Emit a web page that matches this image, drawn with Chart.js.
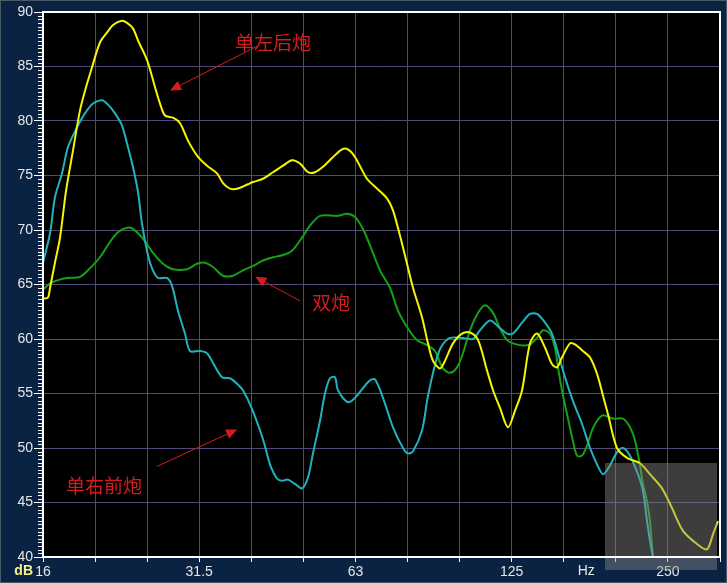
<!DOCTYPE html>
<html>
<head>
<meta charset="utf-8">
<script src="https://cdn.jsdelivr.net/npm/chart.js@4.4.1/dist/chart.umd.min.js"></script>
<style>
  html, body { margin: 0; padding: 0; background: #0b2343; }
  #wrap { width: 727px; height: 583px; }
</style>
</head>
<body>
<div id="wrap"><canvas id="fr" width="727" height="583"></canvas></div>
<script>
// third-octave grid, labels only on the octaves
const freqTicks = [15.85, 19.95, 25.12, 31.62, 39.81, 50.12, 63.10, 79.43, 100.0, 125.9, 158.5, 199.5, 251.2, 316.2];
const freqTickLabels = ['16', '', '', '31.5', '', '', '63', '', '', '125', '', '', '250', ''];
const dbTicks = [40, 45, 50, 55, 60, 65, 70, 75, 80, 85, 90];

// 单左后炮 (yellow)
const yellowFreq = [15.85,16.20,16.35,16.71,17.09,17.55,18.10,18.67,19.17,19.68,20.39,21.03,21.60,22.47,22.98,23.59,24.12,25.10,26.01,26.59,27.18,28.16,29.05,30.09,31.45,32.73,34.21,35.13,36.23,37.54,39.23,40.11,41.92,43.82,45.80,47.66,49.37,51.15,52.76,54.66,56.88,59.45,61.04,62.96,66.39,69.39,72.53,74.49,77.85,81.37,84.67,86.95,88.89,91.69,93.74,97.11,101.1,104.7,108.5,112.9,115.9,119.5,123.8,127.7,131.8,136.5,140.8,145.9,150.4,153.8,157.2,162.9,166.5,172.5,178.0,183.6,188.5,192.7,200.5,209.6,222.0,232.0,244.7,255.7,268.5,285.6,298.5,306.6,313.4];
const yellowDb = [63.7,63.8,64.7,67.0,69.3,73.6,77.3,81.0,83.1,84.9,87.2,88.1,88.8,89.2,89.0,88.5,87.4,85.6,83.1,81.6,80.5,80.3,79.8,78.2,76.7,75.9,75.2,74.3,73.8,73.8,74.2,74.4,74.7,75.3,75.9,76.4,76.1,75.3,75.3,75.8,76.6,77.4,77.4,76.7,74.7,73.8,72.9,71.8,68.4,64.7,62.0,59.6,58.0,57.3,58.0,59.6,60.5,60.6,59.9,57.1,55.3,53.7,51.9,53.4,55.3,59.6,60.5,59.2,57.7,57.4,58.3,59.6,59.5,58.9,58.3,56.8,54.8,53.1,50.0,49.1,48.6,47.6,46.3,44.5,42.4,41.2,40.7,42.1,43.3];

// 单右前炮 (cyan)
const cyanFreq = [15.85,16.35,16.71,17.24,17.70,18.42,19.08,19.77,20.57,21.13,21.79,22.47,23.08,23.59,24.12,24.55,25.10,25.66,26.35,27.42,28.03,28.79,29.69,30.36,31.73,32.73,33.61,34.97,36.23,37.37,38.37,39.93,41.92,43.24,44.60,45.59,46.82,48.29,49.81,51.15,52.29,53.94,55.14,56.37,57.63,58.40,61.04,62.96,65.23,67.28,68.79,71.26,74.49,77.85,79.59,81.37,84.67,86.95,90.48,92.50,95.83,101.5,106.1,109.4,114.4,119.5,123.3,126.6,131.8,136.5,140.8,145.9,150.4,154.5,159.3,165.1,171.8,178.0,183.6,188.5,194.4,200.5,205.9,212.4,220.0,224.9,229.0,232.0,235.1,237.2];
const cyanDb = [67.0,69.7,73.0,75.2,77.6,79.4,80.7,81.6,81.9,81.5,80.7,79.6,77.6,75.8,73.5,70.6,68.1,66.5,65.6,65.6,64.9,62.6,60.5,58.9,58.9,58.7,57.8,56.5,56.4,55.9,55.3,53.6,50.8,48.5,47.2,47.0,47.1,46.7,46.3,47.3,49.5,52.5,55.0,56.4,56.5,55.3,54.2,54.6,55.5,56.2,56.3,54.6,51.9,50.0,49.5,49.7,51.6,54.8,58.3,59.4,60.1,60.1,60.0,60.8,61.7,61.0,60.5,60.5,61.5,62.3,62.3,61.5,60.5,58.7,56.5,54.3,52.2,50.0,48.5,47.6,48.4,49.6,50.0,49.3,47.6,46.1,43.3,41.5,40.0,38.8];

// 双炮 (green)
const greenFreq = [15.85,16.35,16.94,17.62,18.67,19.51,20.39,21.31,22.08,22.98,23.59,24.66,25.78,26.94,28.16,29.96,31.31,32.44,33.61,35.13,36.71,38.37,40.11,41.92,43.82,45.80,47.66,49.81,51.60,53.94,58.40,60.77,62.96,65.23,67.28,70.32,73.50,76.15,79.25,82.81,86.95,89.68,92.91,95.83,98.85,101.5,104.7,108.5,111.9,115.9,119.5,123.3,126.6,132.3,136.5,140.8,144.6,149.1,152.4,154.5,157.2,160.8,164.4,168.0,171.8,175.6,179.5,183.6,188.5,197.0,205.9,212.4,217.1,222.0,224.9,229.0,232.0,235.1,237.2];
const greenDb = [64.5,65.1,65.4,65.6,65.7,66.5,67.5,68.9,69.8,70.2,70.1,69.2,67.9,66.9,66.4,66.4,66.9,67.0,66.6,65.8,65.8,66.3,66.7,67.2,67.5,67.7,68.1,69.3,70.4,71.3,71.3,71.5,71.2,70.1,68.6,66.3,64.7,62.6,61.1,59.9,59.4,58.9,57.3,56.9,57.4,58.7,60.8,62.4,63.1,62.4,61.0,59.9,59.6,59.4,59.5,60.1,60.8,60.5,59.2,57.4,55.3,53.1,51.0,49.3,49.3,50.2,51.6,52.5,53.0,52.7,52.7,51.9,50.7,48.4,46.7,45.1,43.3,40.0,38.8];

// red callouts, placed in data space (Hz, dB)
const notes = [
  { text: '单左后炮', at: [43.8, 87.2], from: [41.4, 87.0], to: [27.8, 82.8] },
  { text: '双炮', at: [56.6, 63.35], from: [49.4, 63.5], to: [40.5, 65.7] },
  { text: '单右前炮', at: [20.76, 46.5], from: [26.2, 48.3], to: [37.4, 51.7] },
];
const xUnit = { text: 'Hz', at: 175 };
const yUnit = 'dB';

function pts(f, d) {
  return f.map((v, i) => ({ x: v, y: d[i] }));
}

const FONT = "'Liberation Sans', Arial, sans-serif";

const decor = {
  id: 'decor',
  beforeDraw(chart) {
    const { ctx, chartArea: a } = chart;
    ctx.save();
    ctx.fillStyle = '#0b2343';
    ctx.fillRect(0, 0, chart.width, chart.height);
    ctx.strokeStyle = '#4a5a66';
    ctx.lineWidth = 1;
    ctx.strokeRect(0.5, 0.5, chart.width - 1, chart.height - 1);
    ctx.fillStyle = '#000';
    ctx.fillRect(a.left, a.top, a.right - a.left, a.bottom - a.top);
    ctx.restore();
  },
  afterDatasetsDraw(chart) {
    const { ctx, chartArea: a } = chart;
    const xs = chart.scales.x, ys = chart.scales.y;
    ctx.save();
    ctx.strokeStyle = '#d41c1c';
    ctx.fillStyle = '#d41c1c';
    ctx.lineWidth = 1;
    notes.forEach(n => {
      const x1 = xs.getPixelForValue(n.from[0]), y1 = ys.getPixelForValue(n.from[1]);
      const x2 = xs.getPixelForValue(n.to[0]), y2 = ys.getPixelForValue(n.to[1]);
      const ang = Math.atan2(y2 - y1, x2 - x1);
      ctx.beginPath();
      ctx.moveTo(x1, y1);
      ctx.lineTo(x2 - 8 * Math.cos(ang), y2 - 8 * Math.sin(ang));
      ctx.stroke();
      ctx.beginPath();
      ctx.moveTo(x2, y2);
      ctx.lineTo(x2 - 11 * Math.cos(ang) + 5 * Math.sin(ang), y2 - 11 * Math.sin(ang) - 5 * Math.cos(ang));
      ctx.lineTo(x2 - 11 * Math.cos(ang) - 5 * Math.sin(ang), y2 - 11 * Math.sin(ang) + 5 * Math.cos(ang));
      ctx.closePath();
      ctx.fill();
      ctx.font = "19px 'Noto Sans CJK SC', sans-serif";
      ctx.textAlign = 'center';
      ctx.textBaseline = 'middle';
      ctx.fillText(n.text, xs.getPixelForValue(n.at[0]), ys.getPixelForValue(n.at[1]));
    });
    // faded logo patch in the corner
    ctx.fillStyle = 'rgba(135,135,135,0.45)';
    ctx.fillRect(a.right - 115, a.bottom - 94, 112, 107);
    ctx.restore();
  },
  afterDraw(chart) {
    const { ctx, chartArea: a } = chart;
    const xs = chart.scales.x, ys = chart.scales.y;
    ctx.save();
    ctx.strokeStyle = '#ffffff';
    ctx.lineWidth = 2;
    ctx.strokeRect(a.left, a.top, a.right - a.left, a.bottom - a.top);
    // minor dB ticks
    ctx.lineWidth = 1;
    ctx.beginPath();
    for (let i = 0; i <= 150; i++) {
      if (i % 15 === 0) continue;
      const y = Math.round(ys.getPixelForValue(40 + i / 3)) + 0.5;
      ctx.moveTo(a.left - 5, y);
      ctx.lineTo(a.left, y);
    }
    ctx.stroke();
    ctx.font = '14px ' + FONT;
    ctx.fillStyle = '#e6e6e6';
    ctx.textAlign = 'center';
    ctx.textBaseline = 'middle';
    ctx.fillText(xUnit.text, xs.getPixelForValue(xUnit.at), a.bottom + 14);
    ctx.font = 'bold 14px ' + FONT;
    ctx.fillStyle = '#f4f48a';
    ctx.textAlign = 'right';
    ctx.fillText(yUnit, a.left - 10, a.bottom + 14);
    ctx.restore();
  }
};

new Chart(document.getElementById('fr'), {
  type: 'line',
  data: {
    datasets: [
      { label: '单左后炮', data: pts(yellowFreq, yellowDb), borderColor: '#f6f600', borderWidth: 2, pointRadius: 0, tension: 0.3 },
      { label: '单右前炮', data: pts(cyanFreq, cyanDb), borderColor: '#22b2bc', borderWidth: 2, pointRadius: 0, tension: 0.3 },
      { label: '双炮', data: pts(greenFreq, greenDb), borderColor: '#16a016', borderWidth: 2, pointRadius: 0, tension: 0.3 },
    ]
  },
  options: {
    responsive: false,
    animation: false,
    devicePixelRatio: 1,
    layout: { padding: { top: 12, right: 7, left: 0, bottom: 0 } },
    plugins: { legend: { display: false }, tooltip: { enabled: false } },
    scales: {
      x: {
        type: 'logarithmic',
        min: freqTicks[0],
        max: freqTicks[freqTicks.length - 1],
        afterBuildTicks: s => { s.ticks = freqTicks.map(v => ({ value: v })); },
        afterFit: s => { s.height = 26; },
        border: { display: false },
        grid: { color: '#4f4a7a', lineWidth: 1, tickLength: 5, tickColor: '#ffffff' },
        ticks: {
          autoSkip: false, maxRotation: 0, padding: 2,
          color: '#e6e6e6', font: { family: FONT, size: 14 },
          callback: (v, i) => freqTickLabels[i]
        }
      },
      y: {
        min: dbTicks[0],
        max: dbTicks[dbTicks.length - 1],
        afterBuildTicks: s => { s.ticks = dbTicks.map(v => ({ value: v })); },
        afterFit: s => { s.width = 43; },
        border: { display: false },
        grid: { color: '#4f4a7a', lineWidth: 1, tickLength: 9, tickColor: '#ffffff' },
        ticks: { padding: 1, color: '#e6e6e6', font: { family: FONT, size: 14 } }
      }
    }
  },
  plugins: [decor]
});
</script>
</body>
</html>
